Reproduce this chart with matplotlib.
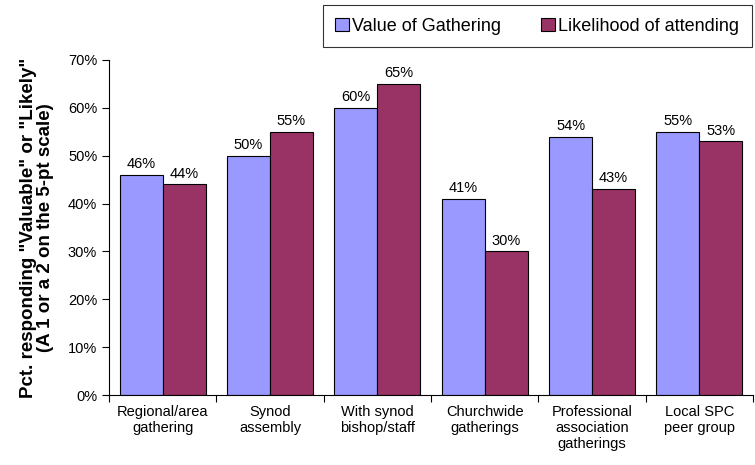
import matplotlib.pyplot as plt
import numpy as np

plt.rcParams['font.family'] = ['Liberation Sans', 'DejaVu Sans']

categories = ['Regional/area\ngathering', 'Synod\nassembly', 'With synod\nbishop/staff',
              'Churchwide\ngatherings', 'Professional\nassociation\ngatherings', 'Local SPC\npeer group']
value_gathering = [46, 50, 60, 41, 54, 55]
likelihood_attending = [44, 55, 65, 30, 43, 53]
yticks = [0, 10, 20, 30, 40, 50, 60, 70]

fig = plt.figure(figsize=(7.55, 4.65), dpi=100)
ax = fig.add_axes([0.1444, 0.1505, 0.853, 0.7205])

x = np.arange(len(categories))
w = 0.4
b1 = ax.bar(x - w/2, value_gathering, w, color='#9999FF', edgecolor='black', linewidth=0.8,
            label='Value of Gathering')
b2 = ax.bar(x + w/2, likelihood_attending, w, color='#993366', edgecolor='black', linewidth=0.8,
            label='Likelihood of attending')

for bars, vals in [(b1, value_gathering), (b2, likelihood_attending)]:
    for r, v in zip(bars, vals):
        ax.text(r.get_x() + r.get_width()/2, v + 0.8, f'{v}%', ha='center', va='bottom', fontsize=10.5)

ax.set_xlim(-0.5, len(categories) - 0.5)
ax.set_ylim(0, 70)
ax.set_yticks(yticks)
ax.set_yticklabels([f'{t}%' for t in yticks], fontsize=10.5)
ax.set_xticks(np.arange(len(categories) + 1) - 0.5)
ax.set_xticklabels([])
ax.set_xticks(x, minor=True)
ax.set_xticklabels(categories, minor=True, fontsize=10.5)
ax.tick_params(axis='x', which='minor', length=0, pad=7)
ax.tick_params(axis='x', which='major', length=5, direction='out')
ax.tick_params(axis='y', length=5, direction='out')
ax.spines['top'].set_visible(False)
ax.spines['right'].set_visible(False)

ax.set_ylabel('Pct. responding "Valuable" or "Likely"\n(A 1 or a 2 on the 5-pt scale)',
              fontsize=13.5, fontweight='bold', labelpad=10, linespacing=1.0)

leg = fig.legend(loc='upper right', bbox_to_anchor=(0.996, 0.989), ncol=2, fontsize=13,
                 frameon=True, fancybox=False, edgecolor='black', handlelength=0.75,
                 handleheight=0.75, handletextpad=0.2, columnspacing=2.2, borderpad=0.7,
                 borderaxespad=0)
leg.get_frame().set_linewidth(0.8)

fig.savefig('out.png', dpi=100)
